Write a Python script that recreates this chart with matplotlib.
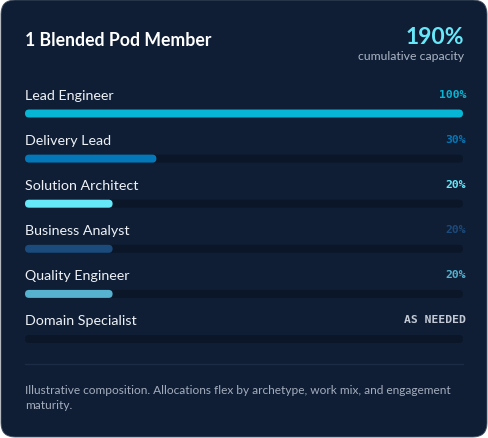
import matplotlib
matplotlib.use("Agg")
import matplotlib.pyplot as plt
from matplotlib.patches import FancyBboxPatch

# data
roles = ["Lead Engineer", "Delivery Lead", "Solution Architect",
         "Business Analyst", "Quality Engineer", "Domain Specialist"]
alloc = [100, 30, 20, 20, 20, 0]
value_labels = ["100%", "30%", "20%", "20%", "20%", "AS NEEDED"]
bar_colors = ["#06b6d4", "#0377b8", "#67e8f9", "#1b4a7c", "#56b2cf", None]
value_colors = ["#06b6d4", "#0377b8", "#67e8f9", "#1b4a7c", "#56b2cf", "#c3cad6"]
title = "1 Blended Pod Member"
total_label = "190%"
total_sub = "cumulative capacity"
footer = ("Illustrative composition. Allocations flex by archetype, work mix, and engagement\n"
          "maturity.")

W, H = 488, 439
card_bg = "#0f1e35"
track_col = "#0b1628"
sans = ["Lato", "DejaVu Sans"]

fig = plt.figure(figsize=(W / 100, H / 100), dpi=100, facecolor="white")
ax = fig.add_axes([0, 0, 1, 1])
ax.set_xlim(0, W)
ax.set_ylim(H, 0)
ax.axis("off")

card = FancyBboxPatch((1, 1), W - 2, H - 2, boxstyle="round,pad=0,rounding_size=14",
                      facecolor=card_bg, edgecolor="#4a5566", linewidth=0.6)
ax.add_patch(card)

# header
ax.text(25, 41, title, color="white", fontsize=12.7, fontweight="bold",
        family=sans, ha="left", va="center")
ax.text(464, 38, total_label, color="#67e8f9", fontsize=16.5, fontweight="bold",
        family=sans, ha="right", va="center")
ax.text(464, 57, total_sub, color="#aab4c4", fontsize=8.8, family=sans,
        ha="right", va="center")

x0, x1 = 25, 463
bar_h = 8
for i, (role, v) in enumerate(zip(roles, alloc)):
    ly = 96 + 45.1 * i
    by = ly + 18.5
    ax.text(x0, ly, role, color="#eef2f7", fontsize=10.3, family=sans,
            ha="left", va="center")
    ax.text(466, ly - 1.5, value_labels[i], color=value_colors[i], fontsize=8.2,
            fontweight="bold", family="DejaVu Sans Mono", ha="right", va="center")
    ax.add_patch(FancyBboxPatch((x0, by - bar_h / 2), x1 - x0, bar_h,
                                boxstyle="round,pad=0,rounding_size=4",
                                facecolor=track_col, edgecolor="none"))
    if v > 0:
        w = (x1 - x0) * v / 100
        ax.add_patch(FancyBboxPatch((x0, by - bar_h / 2), w, bar_h,
                                    boxstyle="round,pad=0,rounding_size=4",
                                    facecolor=bar_colors[i], edgecolor="none"))

ax.plot([x0, x1], [364.5, 364.5], color="#1d2c45", linewidth=1)
ax.text(x0, 398, footer, color="#a3adbd", fontsize=8.6, family=sans,
        ha="left", va="center", linespacing=1.45)

fig.savefig("out.png", dpi=100, facecolor="white")
